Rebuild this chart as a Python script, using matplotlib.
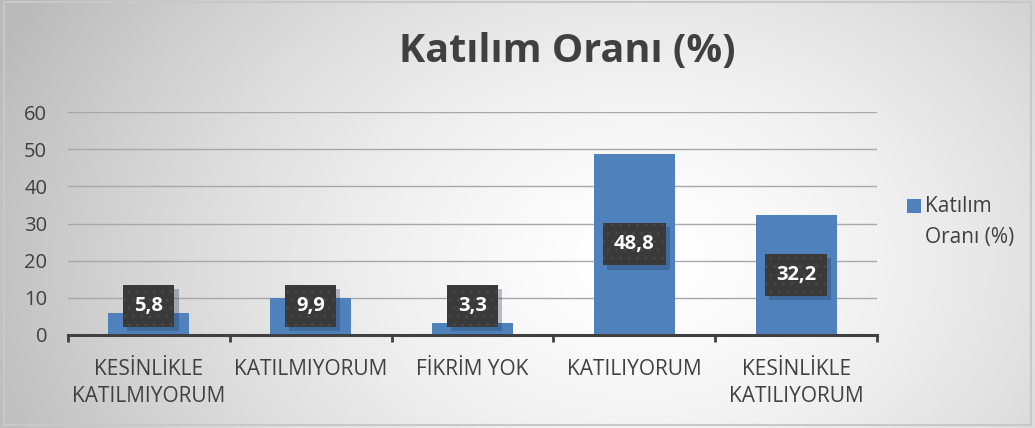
import numpy as np
import matplotlib
matplotlib.use("Agg")
import matplotlib.pyplot as plt
from matplotlib.patches import Rectangle
import matplotlib.patheffects as pe

categories = ["KESİNLİKLE\nKATILMIYORUM", "KATILMIYORUM", "FİKRİM YOK",
              "KATILIYORUM", "KESİNLİKLE\nKATILIYORUM"]
values = [5.8, 9.9, 3.3, 48.8, 32.2]
value_labels = ["5,8", "9,9", "3,3", "48,8", "32,2"]
yticks = [0, 10, 20, 30, 40, 50, 60]
title = "Katılım Oranı (%)"
legend_label = "Katılım\nOranı (%)"

plt.rcParams['font.family'] = ['Open Sans', 'DejaVu Sans']
TXT = '#404040'
BAR = '#4f81bd'


class PlainShadow(pe.AbstractPathEffect):
    """Soft offset shadow without hatch."""
    def __init__(self, offset=(3, -3), color=(0.12, 0.2, 0.32), alpha=0.3):
        super().__init__(offset)
        self._color = color
        self._alpha = alpha

    def draw_path(self, renderer, gc, tpath, affine, rgbFace=None):
        gc0 = renderer.new_gc()
        gc0.copy_properties(gc)
        gc0.set_hatch(None)
        gc0.set_linewidth(0)
        gc0.set_alpha(self._alpha)
        renderer.draw_path(gc0, tpath, affine + self._offset_transform(renderer),
                           self._color)
        gc0.restore()


W, H = 1035, 428
fig = plt.figure(figsize=(W / 100, H / 100), dpi=100)

# background radial gradient
bg = fig.add_axes([0, 0, 1, 1], zorder=-10)
yy, xx = np.mgrid[0:H, 0:W]
d = np.sqrt(((xx - 640) / 1.0) ** 2 + ((yy - 260) / 0.75) ** 2)
t = np.clip(d / 700.0, 0, 1)
g = 1.0 - 0.27 * t ** 1.5
img = np.dstack([g, g, g])
bg.imshow(img, extent=[0, 1, 0, 1], aspect='auto', origin='upper')
bg.set_xlim(0, 1); bg.set_ylim(0, 1)
bg.axis('off')
bg.add_patch(Rectangle((0.004, 0.006), 0.992, 0.99, fill=False, ec='#c8c8c8', lw=1.5,
                       transform=bg.transAxes))

ax = fig.add_axes([68 / W, 93 / H, (877 - 68) / W, (335 - 112) / H])
ax.patch.set_alpha(0)
x = np.arange(len(categories))
ax.bar(x, values, width=0.5, color=BAR, zorder=3)
ax.set_xlim(-0.5, len(categories) - 0.5)
ax.set_ylim(0, 60)
ax.set_yticks(yticks)
ax.yaxis.grid(True, color='#a8a8a8', lw=1.0, zorder=0)
ax.set_axisbelow(True)
for s in ['top', 'right', 'left']:
    ax.spines[s].set_visible(False)
ax.spines['bottom'].set_color('#404040')
ax.spines['bottom'].set_linewidth(2.2)
ax.spines['bottom'].set_zorder(4)
ax.tick_params(axis='y', length=0, pad=15, labelsize=14.5, labelcolor=TXT)
ax.set_xticks(np.arange(-0.5, len(categories)), minor=False)
ax.set_xticklabels([])
ax.tick_params(axis='x', which='major', length=5, width=2, color='#404040', direction='out')
ax.set_xticks(x, minor=True)
ax.set_xticklabels(categories, minor=True, fontsize=15, color=TXT, linespacing=1.42,
                   ha='center', va='top')
ax.tick_params(axis='x', which='minor', length=0, pad=17)

for xi, v, lab in zip(x, values, value_labels):
    yc = max(v / 2, 7.8)
    tx = ax.text(xi, yc, lab, ha='center', va='center', fontsize=14.5, fontweight='bold',
                 color='white', zorder=6,
                 bbox=dict(boxstyle='square,pad=0.55', fc='#3a3a3a', ec='#474747', lw=0,
                           hatch='..'))
    tx.get_bbox_patch().set_path_effects([PlainShadow(), pe.Normal()])

fig.text(567 / W, 1 - 51 / H, title, ha='center', va='center', fontsize=28.5,
         fontweight='bold', color=TXT)

# legend
fig.patches.append(Rectangle((907 / W, 1 - 213 / H), 14 / W, 14 / H, fc=BAR, ec='none',
                             transform=fig.transFigure, figure=fig))
fig.text(925 / W, 1 - 196 / H, legend_label, ha='left', va='top', fontsize=15,
         color=TXT, linespacing=1.65)

fig.savefig('out.png', dpi=100)
